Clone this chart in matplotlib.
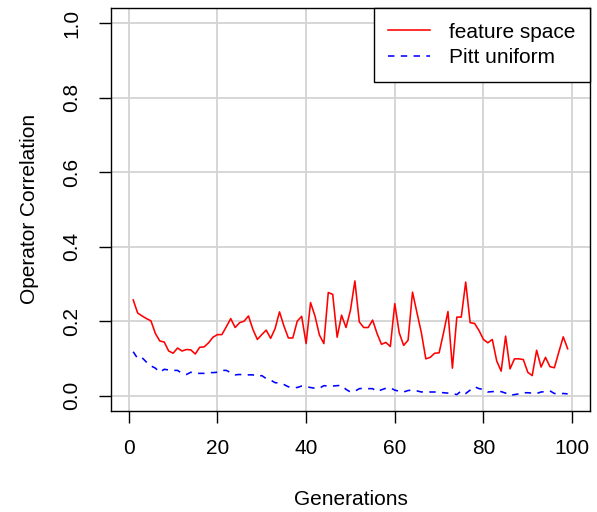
import matplotlib.pyplot as plt
import numpy as np

plt.rcParams['font.family'] = ['Liberation Sans', 'DejaVu Sans']

# correlation per generation
feature_space = [0.257, 0.222, 0.214, 0.207, 0.201, 0.167, 0.147, 0.144, 0.120, 0.114,
                 0.128, 0.120, 0.124, 0.123, 0.112, 0.130, 0.131, 0.142, 0.157, 0.164,
                 0.164, 0.185, 0.207, 0.183, 0.196, 0.200, 0.214, 0.178, 0.151, 0.164,
                 0.176, 0.154, 0.180, 0.225, 0.187, 0.155, 0.155, 0.200, 0.213, 0.140,
                 0.250, 0.214, 0.163, 0.140, 0.277, 0.272, 0.157, 0.216, 0.183, 0.229,
                 0.308, 0.198, 0.183, 0.183, 0.203, 0.167, 0.138, 0.143, 0.132, 0.247,
                 0.169, 0.135, 0.149, 0.278, 0.223, 0.169, 0.099, 0.103, 0.114, 0.115,
                 0.169, 0.226, 0.074, 0.211, 0.211, 0.305, 0.196, 0.194, 0.175, 0.151,
                 0.142, 0.151, 0.093, 0.066, 0.160, 0.072, 0.099, 0.099, 0.097, 0.063,
                 0.054, 0.122, 0.077, 0.103, 0.078, 0.075, 0.117, 0.158, 0.126]
pitt_uniform = [0.118, 0.100, 0.102, 0.090, 0.080, 0.074, 0.063, 0.071, 0.069, 0.068,
                0.068, 0.060, 0.057, 0.063, 0.060, 0.060, 0.060, 0.062, 0.062, 0.063,
                0.068, 0.068, 0.062, 0.056, 0.057, 0.056, 0.056, 0.056, 0.052, 0.054,
                0.046, 0.042, 0.035, 0.034, 0.030, 0.024, 0.022, 0.022, 0.026, 0.024,
                0.022, 0.020, 0.020, 0.027, 0.026, 0.026, 0.027, 0.028, 0.017, 0.010,
                0.012, 0.019, 0.020, 0.019, 0.019, 0.011, 0.016, 0.020, 0.021, 0.015,
                0.012, 0.010, 0.014, 0.015, 0.013, 0.010, 0.011, 0.010, 0.010, 0.010,
                0.008, 0.007, 0.006, 0.003, 0.013, 0.006, 0.015, 0.024, 0.019, 0.017,
                0.010, 0.011, 0.011, 0.011, 0.007, 0.001, 0.003, 0.005, 0.008, 0.008,
                0.007, 0.006, 0.010, 0.011, 0.013, 0.006, 0.005, 0.006, 0.005]
generations = np.arange(1, len(feature_space) + 1)

xticks = [0, 20, 40, 60, 80, 100]
yticks = [0.0, 0.2, 0.4, 0.6, 0.8, 1.0]

fig = plt.figure(figsize=(5.97, 5.12), dpi=100)
ax = fig.add_axes([0.186, 0.198, 0.802, 0.786])

# grid like R's grid() but solid
for t in xticks:
    ax.axvline(t, color='#d3d3d3', lw=1.3, zorder=0)
for t in yticks:
    ax.axhline(t, color='#d3d3d3', lw=1.3, zorder=0)

ax.plot(generations, feature_space, color='red', lw=1.15, label='feature space')
ax.plot(generations, pitt_uniform, color='blue', lw=1.15, dashes=(4, 4), label='Pitt uniform')

ax.set_xlim(-4, 104)
ax.set_ylim(-0.04, 1.04)
ax.set_xticks(xticks)
ax.set_yticks(yticks)
ax.set_xticklabels([str(t) for t in xticks])
ax.set_yticklabels(['%.1f' % t for t in yticks], rotation=90, va='center')
ax.tick_params(labelsize=15, length=8.5, width=1.0, pad=12)
ax.tick_params(axis='y', pad=13)
for s in ax.spines.values():
    s.set_linewidth(1.0)

ax.set_xlabel('Generations', fontsize=15, labelpad=23)
ax.set_ylabel('Operator Correlation', fontsize=15, labelpad=17)

ax.legend(loc='upper right', fontsize=15, borderaxespad=0, fancybox=False,
          edgecolor='black', framealpha=1, handlelength=2.0, handletextpad=0.9,
          borderpad=0.7, labelspacing=0.3)

plt.savefig('out.png', dpi=100)
